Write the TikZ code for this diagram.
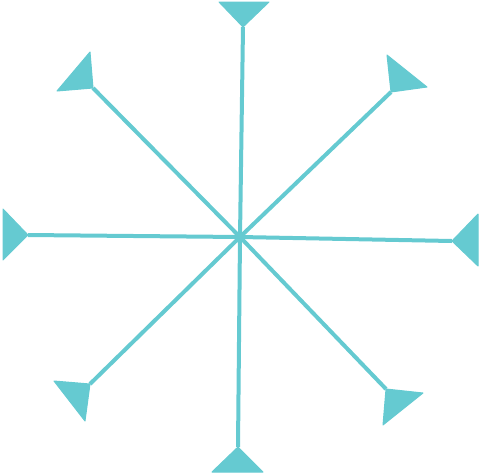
\documentclass[tikz,border=0pt]{standalone}
\usepackage{tikz}

\definecolor{sterntuerkis}{RGB}{101,202,209}

\begin{document}
\begin{tikzpicture}
		[
		x=1pt, y=-1pt, line width=4pt, color=sterntuerkis
		%Pixelkoordinaten, y nach unten
		]
		
		%Rahmen
		\useasboundingbox (0,0) rectangle (480,475);
		
		%Mittelpunkt
		\coordinate (M) at (240,237);
		
		%Strahlen: Spitze / Ecke 1 / Ecke 2
		\foreach \sx/\sy/\ax/\ay/\bx/\by in
		{243/27/219/2/269/2, 391/92/387/55/427/87, 452/241/478/214/478/266,
		386/389/423/393/383/425, 238/447/212/472/263/472, 90/384/54/381/85/421,
		28/235/3/209/3/260, 93/88/90/52/57/91}
		{
		\coordinate (S) at (\sx,\sy);
		\draw (M) -- (S);
		\filldraw[line width=1pt, line join=round] (S) -- (\ax,\ay) -- (\bx,\by) -- cycle;
		}
		
	\end{tikzpicture}
\end{document}
